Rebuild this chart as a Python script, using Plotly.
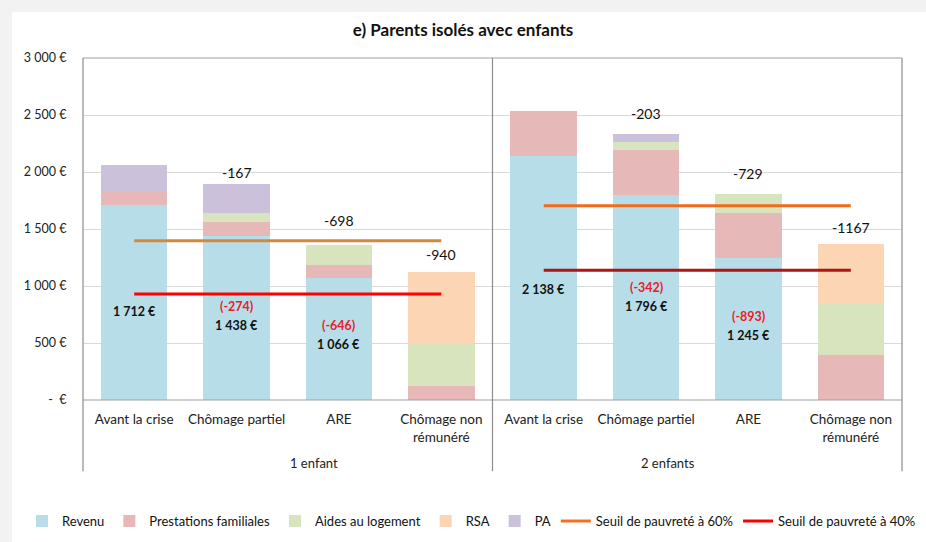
import plotly.graph_objects as go

# ---------------- data ----------------
categories = ["Avant la crise", "Chômage partiel", "ARE", "Chômage non<br>rémunéré"]
groups = ["1 enfant", "2 enfants"]

revenu_1 = [1712, 1438, 1066, 0]
prest_fam_1 = [115, 123, 118, 120]
aides_log_1 = [0, 82, 179, 380]
rsa_1 = [0, 0, 0, 621]
pa_1 = [234, 251, 0, 0]

revenu_2 = [2138, 1796, 1245, 0]
prest_fam_2 = [397, 397, 398, 395]
aides_log_2 = [0, 67, 163, 447]
rsa_2 = [0, 0, 0, 526]
pa_2 = [0, 72, 0, 0]

seuil60 = [1398, 1703]
seuil40 = [930, 1138]

variation_total_1 = [None, -167, -698, -940]
variation_revenu_1 = [None, -274, -646, None]
variation_total_2 = [None, -203, -729, -1167]
variation_revenu_2 = [None, -342, -893, None]

ytick_vals = [0, 500, 1000, 1500, 2000, 2500, 3000]
ytick_text = ["-  €", "500 €", "1 000 €", "1 500 €", "2 000 €", "2 500 €", "3 000 €"]

# ---------------- style ----------------
FONT = "Lato"
C_REV = "#B7DEE8"
C_PF = "#E6B9B8"
C_AL = "#D7E4BD"
C_RSA = "#FCD5B5"
C_PA = "#CCC1DA"
C_60 = ["#D4893A", "#F26B1D"]
C_40 = ["#FF0000", "#B01515"]
LEG_60 = "#F47020"
LEG_40 = "#FF0000"
FRAME = "#A0A0A0"
delta_shift = [[0, 1, 14, 7], [0, 10, 10, 6]]


def fmt(v):
    return f"{v:,}".replace(",", "\u00a0") + "\u00a0€"


fig = go.Figure()

panels = [
    (revenu_1, prest_fam_1, aides_log_1, rsa_1, pa_1, variation_total_1, variation_revenu_1),
    (revenu_2, prest_fam_2, aides_log_2, rsa_2, pa_2, variation_total_2, variation_revenu_2),
]
names = ["Revenu", "Prestations familiales", "Aides au logement", "RSA", "PA"]
colors = [C_REV, C_PF, C_AL, C_RSA, C_PA]

annotations = []
for p, (rev, pf, al, rsa, pa, vt, vr) in enumerate(panels):
    xa = "x" if p == 0 else "x2"
    ya = "y" if p == 0 else "y2"
    for name, col, vals in zip(names, colors, [rev, pf, al, rsa, pa]):
        fig.add_trace(go.Bar(
            x=categories, y=vals, name=name, marker=dict(color=col, line=dict(width=0)),
            xaxis=xa, yaxis=ya, legendgroup=name, showlegend=(p == 0),
            hoverinfo="skip",
        ))
    totals = [a + b + c + d + e for a, b, c, d, e in zip(rev, pf, al, rsa, pa)]
    for i, cat in enumerate(categories):
        if vt[i] is not None:
            annotations.append(dict(
                x=cat, y=totals[i], xref=xa, yref=ya, text=str(vt[i]),
                showarrow=False, yanchor="bottom", yshift=delta_shift[p][i],
                font=dict(family=FONT, size=14, color="#111111"),
            ))
        if rev[i] > 0:
            ly = rev[i] * 0.455
            annotations.append(dict(
                x=cat, y=ly, xref=xa, yref=ya, text="<b>" + fmt(rev[i]) + "</b>",
                showarrow=False, yanchor="middle",
                font=dict(family=FONT, size=12.5, color="#111111"),
            ))
            if vr[i] is not None:
                annotations.append(dict(
                    x=cat, y=ly, xref=xa, yref=ya, text="<b>(" + str(vr[i]) + ")</b>",
                    showarrow=False, yanchor="middle", yshift=19,
                    font=dict(family=FONT, size=12.5, color="#E8202A"),
                ))

for p in range(2):
    xa = "x" if p == 0 else "x2"
    ya = "y" if p == 0 else "y2"
    fig.add_trace(go.Scatter(
        x=[categories[0], categories[-1]], y=[seuil60[p]] * 2, mode="lines",
        line=dict(color=C_60[p], width=3), name="Seuil de pauvreté à 60%",
        legendgroup="s60", showlegend=False, xaxis=xa, yaxis=ya, hoverinfo="skip",
    ))
    fig.add_trace(go.Scatter(
        x=[categories[0], categories[-1]], y=[seuil40[p]] * 2, mode="lines",
        line=dict(color=C_40[p], width=3), name="Seuil de pauvreté à 40%",
        legendgroup="s40", showlegend=False, xaxis=xa, yaxis=ya, hoverinfo="skip",
    ))

# legend-only entries for the lines (single colour as in the legend)
fig.add_trace(go.Scatter(x=[None], y=[None], mode="lines", line=dict(color=LEG_60, width=3),
                         name="Seuil de pauvreté à 60%", xaxis="x", yaxis="y"))
fig.add_trace(go.Scatter(x=[None], y=[None], mode="lines", line=dict(color=LEG_40, width=3),
                         name="Seuil de pauvreté à 40%", xaxis="x", yaxis="y"))

# group labels
for p, g in enumerate(groups):
    annotations.append(dict(
        x=0.25 + 0.5 * p, y=-0.184, xref="paper", yref="paper", text=g,
        showarrow=False, yanchor="middle", font=dict(family=FONT, size=13, color="#222222"),
    ))

# frame shapes
shapes = [
    dict(type="rect", xref="paper", yref="paper", x0=-0.0867, x1=1.04, y0=-0.43, y1=1.1345,
         fillcolor="white", line=dict(width=0), layer="below"),
    dict(type="line", xref="paper", yref="paper", x0=0, x1=1, y0=1, y1=1,
         line=dict(color=FRAME, width=1.2)),
    dict(type="line", xref="paper", yref="paper", x0=0, x1=1, y0=0, y1=0,
         line=dict(color=FRAME, width=1.2)),
]
for xx in [0, 0.5, 1]:
    shapes.append(dict(type="line", xref="paper", yref="paper", x0=xx, x1=xx, y0=-0.208, y1=1,
                       line=dict(color="#8C8C8C", width=1.2)))

axis_x = dict(type="category", showgrid=False, showline=False, zeroline=False,
              ticks="outside", ticklen=7, tickcolor="rgba(0,0,0,0)", automargin=False,
              tickfont=dict(family=FONT, size=13.5, color="#222222"), fixedrange=True)
fig.update_layout(
    width=926, height=542,
    margin=dict(l=83, r=24, t=58, b=142, autoexpand=False),
    paper_bgcolor="#F2F2F2", plot_bgcolor="white",
    barmode="stack", bargap=0.35,
    title=dict(text="<b>e) Parents isolés avec enfants</b>", x=0.5, xanchor="center",
               y=1 - 30 / 542, yanchor="middle", font=dict(family=FONT, size=17, color="#111111")),
    xaxis=dict(domain=[0, 0.5], anchor="y", **axis_x),
    xaxis2=dict(domain=[0.5, 1], anchor="y2", **axis_x),
    yaxis=dict(range=[0, 3000], tickvals=ytick_vals, ticktext=ytick_text, showgrid=True,
               gridcolor="#D9D9D9", gridwidth=1, zeroline=False, showline=False,
               ticks="outside", ticklen=13, tickcolor="rgba(0,0,0,0)", automargin=False,
               tickfont=dict(family=FONT, size=12.5, color="#222222"), fixedrange=True),
    yaxis2=dict(range=[0, 3000], tickvals=ytick_vals, showticklabels=False, showgrid=True,
                gridcolor="#D9D9D9", gridwidth=1, zeroline=False, showline=False,
                automargin=False, anchor="x2", matches="y", fixedrange=True),
    legend=dict(orientation="h", x=-0.0745, xanchor="left", y=-0.354, yanchor="middle",
                traceorder="normal", font=dict(family=FONT, size=13, color="#111111"),
                bgcolor="rgba(0,0,0,0)"),
    annotations=annotations,
    shapes=shapes,
    showlegend=True,
)

fig.write_html("out.html", config={"displayModeBar": False},
               post_script="document.body.style.margin='0';")
